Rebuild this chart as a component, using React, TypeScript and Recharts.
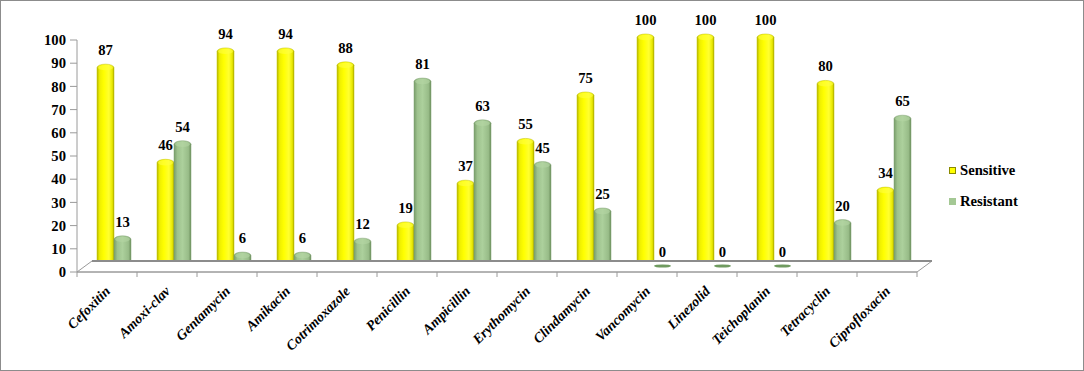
import React from 'react';
import { BarChart, Bar, XAxis, YAxis, Legend, LabelList, ReferenceLine } from 'recharts';

const categories = ['Cefoxitin', 'Amoxi-clav', 'Gentamycin', 'Amikacin', 'Cotrimoxazole', 'Penicillin', 'Ampicillin', 'Erythomycin', 'Clindamycin', 'Vancomycin', 'Linezolid', 'Teichoplanin', 'Tetracyclin', 'Ciprofloxacin'];
const sensitive = [87, 46, 94, 94, 88, 19, 37, 55, 75, 100, 100, 100, 80, 34];
const resistant = [13, 54, 6, 6, 12, 81, 63, 45, 25, 0, 0, 0, 20, 65];
const yTicks = [0, 10, 20, 30, 40, 50, 60, 70, 80, 90, 100];

const data = categories.map((c, i) => ({ name: c, Sensitive: sensitive[i], Resistant: resistant[i] }));

const FONT = '"Liberation Serif", "Times New Roman", serif';
const DX = 7;
const DY = -6;
const AXIS = '#9a9a9a';

const palettes: Record<string, { stops: [number, string][]; top: string; flat: string; stroke: string }> = {
  Sensitive: {
    stops: [[0, '#b8b800'], [0.15, '#eeee00'], [0.4, '#ffff00'], [0.7, '#ffff30'], [0.9, '#e8e800'], [1, '#a8a800']],
    top: '#ffff40',
    flat: '#c8c800',
    stroke: '#c0c000',
  },
  Resistant: {
    stops: [[0, '#789c6a'], [0.2, '#9ec28e'], [0.5, '#acd09c'], [0.85, '#98bc88'], [1, '#6c8f5c']],
    top: '#b4d6a4',
    flat: '#6f9a5f',
    stroke: '#7fa070',
  },
};

const makeShape = (key: string) => (props: any) => {
  const { x, y, width, height, index } = props;
  const p = palettes[key];
  const x0 = x + DX;
  const w = width;
  const rx = w / 2;
  const ry = 3.5;
  const yb = y + height + DY;
  const yt = y + DY;
  const id = `grad-${key}-${index}`;
  if (!height || height <= 1.5) {
    return <g />;
  }
  const d = `M ${x0} ${yt + ry} A ${rx} ${ry} 0 0 1 ${x0 + w} ${yt + ry} L ${x0 + w} ${yb} A ${rx} ${ry} 0 0 1 ${x0} ${yb} Z`;
  return (
    <g>
      <defs>
        <linearGradient id={id} x1="0" y1="0" x2="1" y2="0">
          {p.stops.map(([o, c], i) => <stop key={i} offset={o} stopColor={c} />)}
        </linearGradient>
      </defs>
      <path d={d} fill={`url(#${id})`} stroke={p.stroke} strokeWidth={0.5} />
      <ellipse cx={x0 + rx} cy={yt + ry} rx={rx - 1} ry={ry - 0.8} fill={p.top} opacity={0.6} />
    </g>
  );
};

const makeLabel = (key: string) => (props: any) => {
  const { x, y, width, height, value } = props;
  const cx = x + width / 2 + DX;
  const zero = Number(value) === 0;
  return (
    <g>
      {zero && <ellipse cx={cx} cy={y + (height || 0) + DY} rx={width / 2} ry={1.6} fill={palettes[key].flat} />}
      <text x={cx} y={y + DY - 9} textAnchor="middle" fontFamily={FONT} fontWeight="bold" fontSize={14.67} fill="#000">
        {value}
      </text>
    </g>
  );
};

const XTick = (props: any) => {
  const { x, y, payload, index, width, visibleTicksCount } = props;
  const n = visibleTicksCount || categories.length;
  const band = width / n;
  const ax = x + 4;
  const ay = y + 20;
  return (
    <g>
      <line x1={x - band / 2} y1={y} x2={x - band / 2} y2={y + 5} stroke={AXIS} />
      {index === n - 1 && <line x1={x + band / 2} y1={y} x2={x + band / 2} y2={y + 5} stroke={AXIS} />}
      <text x={ax} y={ay} transform={`rotate(-45, ${ax}, ${ay})`} textAnchor="end" fontFamily={FONT} fontWeight="bold" fontStyle="italic" fontSize={14} fill="#000">
        {payload.value}
      </text>
    </g>
  );
};

const Floor = (props: any) => {
  const { x1, y1, x2, y2 } = props;
  const ox = 15;
  const oy = -11;
  return (
    <g>
      <polygon points={`${x1},${y1} ${x1 + ox},${y1 + oy} ${x2 + ox},${y2 + oy} ${x2},${y2}`} fill="#fff" stroke={AXIS} strokeWidth={1} />
      <line x1={x1 + ox} y1={y1 + oy} x2={x2 + ox} y2={y2 + oy} stroke="#8c8c8c" strokeWidth={2} />
    </g>
  );
};

const LegendContent = () => (
  <div style={{ fontFamily: FONT, fontWeight: 'bold', fontSize: 14.67, color: '#000' }}>
    {[
      { name: 'Sensitive', color: '#ffff00', border: '#8a8a00' },
      { name: 'Resistant', color: '#a4c894', border: '#a4c894' },
    ].map((it) => (
      <div key={it.name} style={{ display: 'flex', alignItems: 'center', height: 31 }}>
        <span style={{ display: 'inline-block', width: 5, height: 5, background: it.color, border: `1px solid ${it.border}`, marginRight: 4 }} />
        <span>{it.name}</span>
      </div>
    ))}
  </div>
);

export default function App() {
  return (
    <div style={{ position: 'absolute', left: 0, top: 0, width: 1084, height: 371, background: '#fff' }}>
      <BarChart
        width={1084}
        height={371}
        data={data}
        margin={{ top: 40, right: 167, bottom: 39, left: 37 }}
        barSize={17}
        barGap={0}
      >
        <ReferenceLine y={0} shape={Floor} />
        <XAxis
          dataKey="name"
          interval={0}
          height={60}
          axisLine={{ stroke: AXIS }}
          tickLine={false}
          tickSize={0}
          tickMargin={0}
          tick={<XTick />}
        />
        <YAxis
          width={40}
          domain={[0, 100]}
          ticks={yTicks}
          interval={0}
          tickSize={7}
          tickMargin={4}
          axisLine={{ stroke: AXIS }}
          tickLine={{ stroke: AXIS }}
          tick={{ fontFamily: FONT, fontWeight: 'bold', fontSize: 14.67, fill: '#000' }}
        />
        <Legend
          layout="horizontal"
          verticalAlign="middle"
          align="center"
          content={<LegendContent />}
          wrapperStyle={{ left: 949, top: 155, width: 130 }}
        />
        <Bar dataKey="Sensitive" fill="#ffff00" shape={makeShape('Sensitive')} isAnimationActive={false}>
          <LabelList dataKey="Sensitive" content={makeLabel('Sensitive')} />
        </Bar>
        <Bar dataKey="Resistant" fill="#a4c894" shape={makeShape('Resistant')} isAnimationActive={false}>
          <LabelList dataKey="Resistant" content={makeLabel('Resistant')} />
        </Bar>
      </BarChart>
      <div style={{ position: 'absolute', left: 0, top: 0, width: 1084, height: 371, boxSizing: 'border-box', border: '1px solid #8c8c8c', pointerEvents: 'none' }} />
    </div>
  );
}
